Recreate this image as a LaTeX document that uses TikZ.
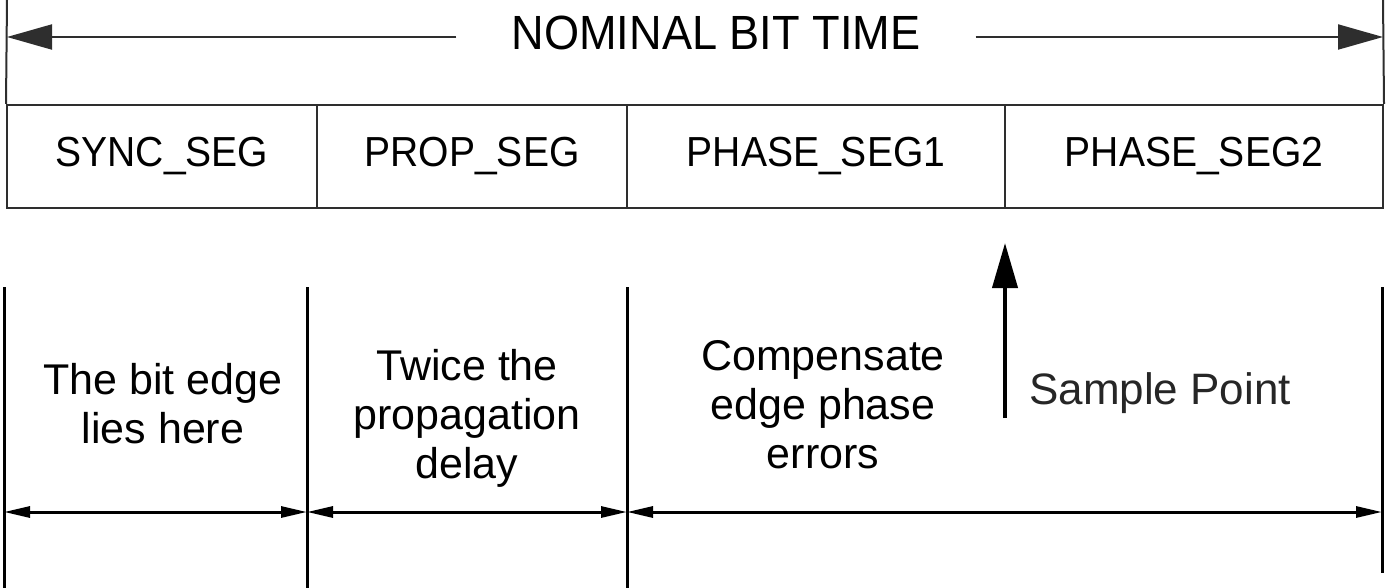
\documentclass[tikz,border=0pt]{standalone}
\usepackage{fontspec}
\setmainfont{Liberation Sans}
\newfontfamily\headfont[FakeStretch=0.94]{Liberation Sans}
\newfontfamily\segfont[FakeStretch=0.93]{Liberation Sans}
\usetikzlibrary{arrows.meta}
\begin{document}
\begin{tikzpicture}[x=1pt,y=-1pt,
  boxline/.style={line width=2pt,draw=black!82},
  cell/.style={boxline,rectangle,minimum height=103pt,inner sep=0pt,
    font=\segfont\fontsize{42}{46}\selectfont},
  bigtip/.tip={Triangle[length=45pt,width=25pt]},
  smalltip/.tip={Triangle[length=26pt,width=11pt]},
  dimline/.style={line width=3pt,black},
  note/.style={align=center,inner sep=0pt,font=\fontsize{43}{49}\selectfont}]
\useasboundingbox (0,0) rectangle (1386,588);

% bit-time header
\node[inner sep=0pt,font=\headfont\fontsize{48}{54}\selectfont] (title) at (716,33) {NOMINAL BIT TIME};
\coordinate (tl) at (7,37);
\coordinate (tr) at (1383,37);
\draw[boxline,-{bigtip}] ([xshift=-55pt]title.west |- tl) -- (tl);
\draw[boxline,-{bigtip}] ([xshift=55pt]title.east |- tr) -- (tr);

% segment cells
\node[cell,minimum width=310pt] (sync) at (162,156.5) {SYNC\_SEG};
\node[cell,minimum width=310pt] (prop) at (472,156.5) {PROP\_SEG};
\node[cell,minimum width=378pt] (ph1) at (816,156.5) {PHASE\_SEG1};
\node[cell,minimum width=378pt] (ph2) at (1194,156.5) {PHASE\_SEG2};
\draw[boxline] (sync.north west) -- (7,0);
\draw[boxline] (ph2.north east) -- (1383,0);

% sample point marker
\coordinate (sptail) at (1005,418);
\coordinate (sptip) at (1005,243);
\draw[line width=4pt,-{bigtip}] (sptail) -- (sptip);
\node[note,anchor=west,font=\fontsize{44}{49}\selectfont,text=black!85] (sample) at (1029,393) {Sample Point};

% bottom dimension boundaries
\coordinate (v0) at (4,512);
\coordinate (v1) at (307,512);
\coordinate (v2) at (627,512);
\coordinate (v3) at (1382,512);
\draw[dimline] (4,287) -- (4,588);
\draw[dimline] (307,287) -- (307,588);
\draw[dimline] (627,287) -- (627,588);
\draw[dimline] (1382,287) -- (1382,573);
\draw[dimline,{smalltip}-{smalltip}] (v0) -- (v1);
\draw[dimline,{smalltip}-{smalltip}] (v1) -- (v2);
\draw[dimline,{smalltip}-{smalltip}] (v2) -- (v3);

% explanations
\node[note] (edge) at (163,404) {The bit edge\\lies here};
\node[note] (twice) at (467,418) {Twice the\\propagation\\delay};
\node[note] (comp) at (823,405) {Compensate\\edge phase\\errors};
\end{tikzpicture}
\end{document}
